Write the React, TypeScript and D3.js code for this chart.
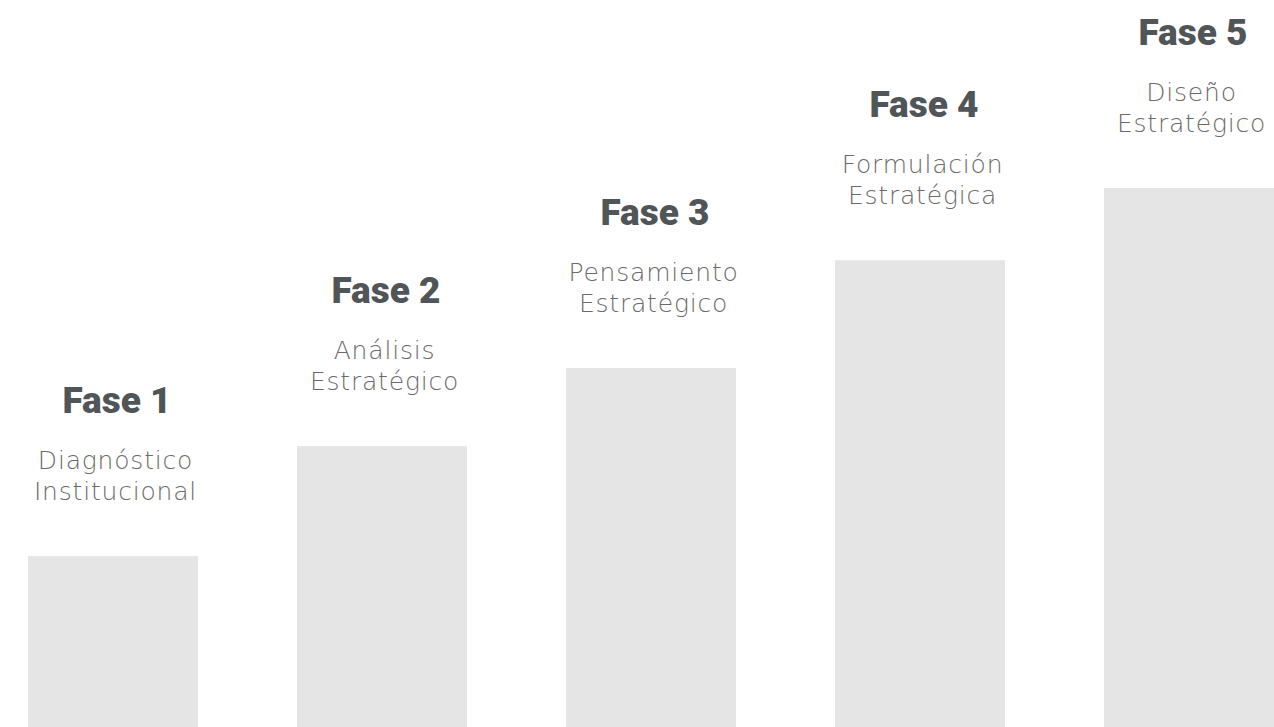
import React from "react";
import * as d3 from "d3";

const phases = ["Fase 1", "Fase 2", "Fase 3", "Fase 4", "Fase 5"];
const subtitles: string[][] = [
  ["Diagnóstico", "Institucional"],
  ["Análisis", "Estratégico"],
  ["Pensamiento", "Estratégico"],
  ["Formulación", "Estratégica"],
  ["Diseño", "Estratégico"],
];
const values = [31.7, 52.1, 66.6, 86.6, 100];

const W = 1274;
const H = 727;

export default function App() {
  const x = d3
    .scaleBand<string>()
    .domain(phases)
    .range([28, W])
    .paddingInner(0.368)
    .paddingOuter(0);
  const y = d3.scaleLinear().domain([0, 100]).range([H, 188]);

  return (
    <svg
      width={W}
      height={H}
      style={{ position: "absolute", left: 0, top: 0, background: "#fff" }}
    >
      {phases.map((p, i) => {
        const bx = x(p)!;
        const bw = x.bandwidth();
        const top = y(values[i]);
        const cx = bx + bw / 2 + 2;
        return (
          <g key={p}>
            <rect x={bx} y={top} width={bw} height={H - top} fill="#e5e5e5" />
            <text
              x={cx + 2}
              y={top - 143}
              textAnchor="middle"
              fontFamily="Roboto, 'DejaVu Sans', sans-serif"
              fontWeight={900}
              fontSize={37}
              fill="#505558"
            >
              {p}
            </text>
            {subtitles[i].map((s, j) => (
              <text
                key={j}
                x={cx + 0.5}
                y={top - 87 + j * 31}
                textAnchor="middle"
                fontFamily="'DejaVu Sans', 'Open Sans', sans-serif"
                fontWeight={200}
                fontSize={25}
                letterSpacing={0.8}
                fill="#6a6a6a"
              >
                {s}
              </text>
            ))}
          </g>
        );
      })}
    </svg>
  );
}
